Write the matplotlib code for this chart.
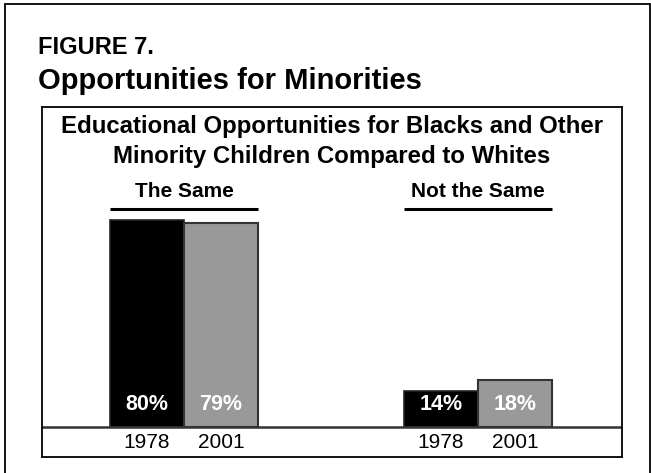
import matplotlib.pyplot as plt
from matplotlib.patches import Rectangle

plt.rcParams['font.family'] = ['Liberation Sans', 'DejaVu Sans']

# Data
groups = ['The Same', 'Not the Same']
years = ['1978', '2001']
values_1978 = [80, 14]
values_2001 = [79, 18]

bar_colors = {'1978': '#000000', '2001': '#999999'}

fig = plt.figure(figsize=(6.51, 4.73), dpi=100)
W, H = 651, 473

# outer frame (open at the bottom edge of the picture)
fig.add_artist(Rectangle((5 / W, -0.05), 645 / W, 1.05 - 4 / H,
                         transform=fig.transFigure, fill=False,
                         edgecolor='black', linewidth=1.3))

fig.text(38 / W, 1 - 48 / H, 'FIGURE 7.', fontsize=17, fontweight='bold',
         va='center', ha='left')
fig.text(38 / W, 1 - 81 / H, 'Opportunities for Minorities', fontsize=21,
         fontweight='bold', va='center', ha='left')

# inner chart box
ax = fig.add_axes([42 / W, 1 - 457 / H, 580 / W, 350 / H])
for s in ax.spines.values():
    s.set_linewidth(1.3)
    s.set_color('black')

x = list(range(len(groups)))
width = 0.2517
ax.bar([i - width / 2 for i in x], values_1978, width, color=bar_colors['1978'],
       edgecolor='#222222', linewidth=1.2)
ax.bar([i + width / 2 for i in x], values_2001, width, color=bar_colors['2001'],
       edgecolor='#333333', linewidth=1.5)

ax.set_xlim(-0.483, 1.490)
ax.set_ylim(-11.59, 123.67)
ax.axhline(0, color='#333333', linewidth=1.8)
ax.set_xticks([])
ax.set_yticks([])

# value labels inside the bars, year labels below the baseline
for i in x:
    for off, v, yr in [(-width / 2, values_1978[i], years[0]),
                       (width / 2, values_2001[i], years[1])]:
        ax.text(i + off, 8.7, f'{v}%', color='white', fontsize=15.5,
                fontweight='bold', ha='center', va='center')
        ax.text(i + off, -5.8, yr, color='black', fontsize=15,
                ha='center', va='center')

# group headers with underline
for i, g in enumerate(groups):
    ax.text(i, 91.0, g, fontsize=15, fontweight='bold', ha='center', va='center')
    ax.plot([i - width, i + width], [84.25, 84.25], color='black', linewidth=2.2,
            solid_capstyle='butt')

ax.text(0.5, 1 - 20 / 350, 'Educational Opportunities for Blacks and Other',
        transform=ax.transAxes, fontsize=17.3, fontweight='bold',
        ha='center', va='center')
ax.text(0.5, 1 - 50 / 350, 'Minority Children Compared to Whites',
        transform=ax.transAxes, fontsize=17.3, fontweight='bold',
        ha='center', va='center')

plt.savefig('out.png', dpi=100)
